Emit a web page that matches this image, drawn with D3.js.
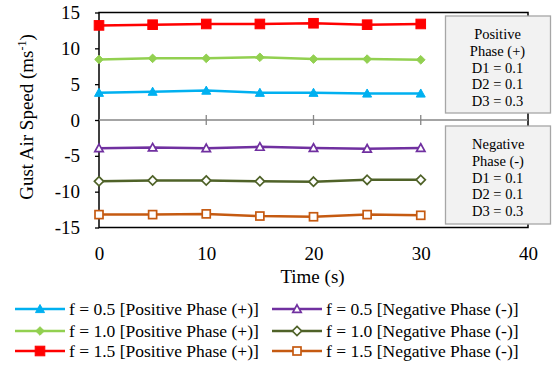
<!DOCTYPE html>
<html><head><meta charset="utf-8">
<script src="https://cdn.jsdelivr.net/npm/d3@7"></script>
<style>body{margin:0;background:#fff}svg{display:block}</style>
</head><body>
<svg id="c" width="558" height="367"></svg>
<script>
const times = [0, 5, 10, 15, 20, 25, 30];
const posF05 = [3.8, 3.95, 4.1, 3.8, 3.8, 3.7, 3.7];
const posF10 = [8.45, 8.6, 8.6, 8.75, 8.5, 8.5, 8.4];
const posF15 = [13.2, 13.3, 13.4, 13.4, 13.5, 13.3, 13.4];
const negF05 = [-3.95, -3.85, -3.95, -3.75, -3.9, -4.0, -3.9];
const negF10 = [-8.55, -8.45, -8.45, -8.55, -8.6, -8.35, -8.35];
const negF15 = [-13.2, -13.2, -13.1, -13.4, -13.5, -13.2, -13.3];
const seriesNames = ["f = 0.5 [Positive Phase (+)]","f = 1.0 [Positive Phase (+)]","f = 1.5 [Positive Phase (+)]",
  "f = 0.5 [Negative Phase (-)]","f = 1.0 [Negative Phase (-)]","f = 1.5 [Negative Phase (-)]"];
const xTicks = [0, 10, 20, 30, 40];
const yTicks = [-15, -10, -5, 0, 5, 10, 15];
const posBoxText = ["Positive", "Phase (+)", "D1 = 0.1", "D2 = 0.1", "D3 = 0.3"];
const negBoxText = ["Negative", "Phase (-)", "D1 = 0.1", "D2 = 0.1", "D3 = 0.3"];

const series = [
  {name: seriesNames[0], vals: posF05, color: "#00b0f0", shape: "tri", fill: true},
  {name: seriesNames[1], vals: posF10, color: "#92d050", shape: "dia", fill: true},
  {name: seriesNames[2], vals: posF15, color: "#ff0000", shape: "sq", fill: true},
  {name: seriesNames[3], vals: negF05, color: "#7030a0", shape: "tri", fill: false},
  {name: seriesNames[4], vals: negF10, color: "#4f6228", shape: "dia", fill: false},
  {name: seriesNames[5], vals: negF15, color: "#c55a11", shape: "sq", fill: false}
];

const svg = d3.select("#c");
const L = 99, R = 528, T = 12.5, B = 227.5;
const x = d3.scaleLinear().domain([0, 40]).range([L, R]);
const y = d3.scaleLinear().domain([-15, 15]).range([B, T]);

svg.append("rect").attr("x", L).attr("y", T).attr("width", R - L).attr("height", B - T)
  .attr("fill", "none").attr("stroke", "#000").attr("stroke-width", 1.5);

svg.append("line").attr("x1", L).attr("x2", R).attr("y1", y(0)).attr("y2", y(0))
  .attr("stroke", "#868686").attr("stroke-width", 1.3);
svg.selectAll(".zt").data(xTicks.slice(1, 4)).enter().append("line")
  .attr("x1", d => x(d)).attr("x2", d => x(d)).attr("y1", y(0) - 5).attr("y2", y(0) + 5)
  .attr("stroke", "#868686").attr("stroke-width", 1.3);

const yAx = svg.append("g").attr("transform", `translate(${L},0)`)
  .call(d3.axisLeft(y).tickValues(yTicks).tickSize(4).tickPadding(15).tickFormat(d3.format("d")));
yAx.select(".domain").remove();
yAx.selectAll("line").attr("stroke", "#000").attr("stroke-width", 1.3);
yAx.selectAll("text").attr("font-size", 19).text(d => d < 0 ? "-" + Math.abs(d) : d);

const xAx = svg.append("g").attr("transform", `translate(0,${B})`)
  .call(d3.axisBottom(x).tickValues(xTicks).tickSize(0).tickPadding(19).tickFormat(d3.format("d")));
xAx.select(".domain").remove();
xAx.selectAll("text").attr("font-size", 19);

svg.append("text").attr("x", (L + R) / 2 - 1).attr("y", 283).attr("text-anchor", "middle")
  .attr("font-size", 19).text("Time (s)");
const yt = svg.append("text").attr("transform", `translate(33,${(T + B) / 2 - 3}) rotate(-90)`)
  .attr("text-anchor", "middle").attr("font-size", 19);
yt.append("tspan").text("Gust Air Speed (ms");
yt.append("tspan").attr("font-size", 12).attr("dy", -7).text("-1");
yt.append("tspan").attr("dy", 7).text(")");

function marker(g, s, cx, cy) {
  const fill = s.fill ? s.color : "#fff";
  const sw = s.fill ? 1 : 1.7;
  if (s.shape === "sq") {
    const h = s.fill ? 4.8 : 4;
    g.append("rect").attr("x", cx - h).attr("y", cy - h).attr("width", 2 * h).attr("height", 2 * h)
      .attr("fill", fill).attr("stroke", s.color).attr("stroke-width", sw);
  } else if (s.shape === "dia") {
    const h = s.fill ? 4.3 : 4.6;
    g.append("path").attr("d", `M${cx},${cy - h}L${cx + h},${cy}L${cx},${cy + h}L${cx - h},${cy}Z`)
      .attr("fill", fill).attr("stroke", s.color).attr("stroke-width", sw);
  } else {
    const h = s.fill ? 4.5 : 4.2;
    g.append("path").attr("d", `M${cx},${cy - h}L${cx + h},${cy + h * 0.8}L${cx - h},${cy + h * 0.8}Z`)
      .attr("fill", fill).attr("stroke", s.color).attr("stroke-width", sw);
  }
}

const line = d3.line().x((d, i) => x(times[i])).y(d => y(d));
series.forEach(s => {
  const g = svg.append("g");
  g.append("path").attr("d", line(s.vals)).attr("fill", "none").attr("stroke", s.color).attr("stroke-width", 2.5);
  s.vals.forEach((v, i) => marker(g, s, x(times[i]), y(v)));
});

function box(x0, y0, w, h, lines, anchor, tx, ty0) {
  svg.append("rect").attr("x", x0).attr("y", y0).attr("width", w).attr("height", h)
    .attr("fill", "#f2f2f2").attr("stroke", "#a6a6a6").attr("stroke-width", 1.3);
  lines.forEach((t, i) => svg.append("text").attr("x", tx).attr("y", ty0 + i * 16.8)
    .attr("text-anchor", anchor).attr("font-size", 14.5).text(t));
}
box(445.5, 16, 105, 97, posBoxText, "middle", 497.5, 39);
box(445.5, 126, 105, 98, negBoxText, "start", 472, 149);

const legRows = [309, 331, 351];
series.forEach((s, i) => {
  const col = Math.floor(i / 3), row = i % 3;
  const lx = col === 0 ? 15 : 272, ly = legRows[row];
  const g = svg.append("g");
  g.append("line").attr("x1", lx).attr("x2", lx + 50).attr("y1", ly).attr("y2", ly)
    .attr("stroke", s.color).attr("stroke-width", 2.5);
  marker(g, s, lx + 25, ly);
  g.append("text").attr("x", lx + 54).attr("y", ly + 6).attr("font-size", 17.5).text(s.name);
});

svg.selectAll("text").style("font-family", "'Liberation Serif'").attr("fill", "#000");
</script>
</body></html>
